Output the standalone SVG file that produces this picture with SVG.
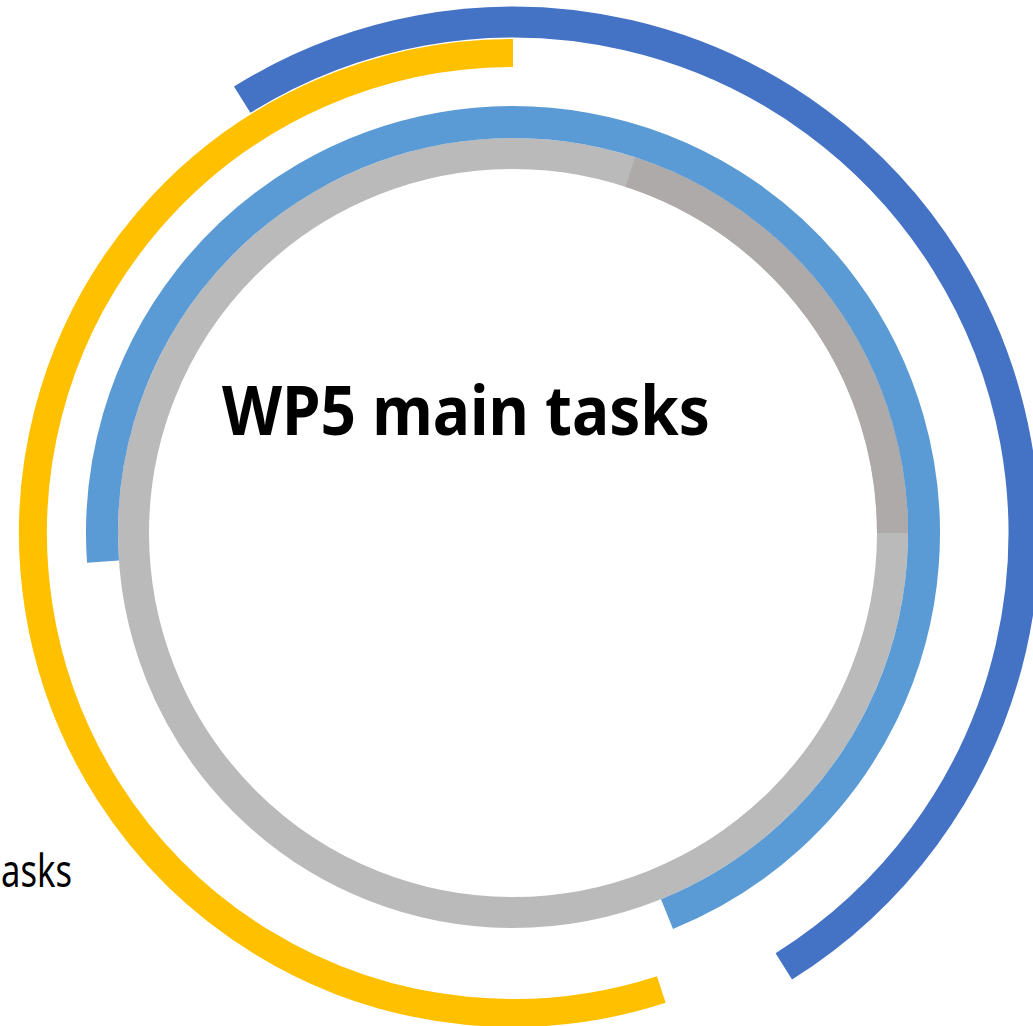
<svg xmlns="http://www.w3.org/2000/svg" width="1033" height="1026" viewBox="0 0 1033 1026">
  <style>
    .ring { fill: none; stroke-linecap: butt; }
    .title { font-family: "Noto Sans", "Open Sans", "Liberation Sans", sans-serif; font-weight: bold; fill: #000000; }
    .label { font-family: "Noto Sans", "Open Sans", "Liberation Sans", sans-serif; fill: #000000; }
  </style>
  <rect x="0" y="0" width="1033" height="1026" fill="#FFFFFF"/>
  <g id="ring-gray">
    <circle class="ring" cx="513" cy="533" r="379.5" stroke="#BABABA" stroke-width="31"/>
    <path class="ring" d="M 630.3 172.1 A 379.5 379.5 0 0 1 892.5 533" stroke="#AEAAAA" stroke-width="31"/>
  </g>
  <g id="ring-lightblue">
    <path class="ring" d="M 103.0 561.7 A 411 411 0 1 1 667.0 914.1" stroke="#5B9BD5" stroke-width="32"/>
  </g>
  <g id="ring-darkblue">
    <path class="ring" d="M 242.2 99.7 A 511 511 0 0 1 946.3 262.2 A 511 511 0 0 1 783.8 966.3" stroke="#4472C4" stroke-width="31"/>
  </g>
  <g id="ring-yellow">
    <path class="ring" d="M 661.3 989.5 A 480 480 0 1 1 513 53" stroke="#FFC000" stroke-width="28"/>
  </g>
  <g id="title">
    <text class="title" x="222" y="435" font-size="68" textLength="488" lengthAdjust="spacingAndGlyphs">WP5 main tasks</text>
  </g>
  <g id="side-label">
    <text class="label" x="1" y="887" font-size="45" textLength="71" lengthAdjust="spacingAndGlyphs">asks</text>
  </g>
  <g id="connectors"></g>
</svg>
